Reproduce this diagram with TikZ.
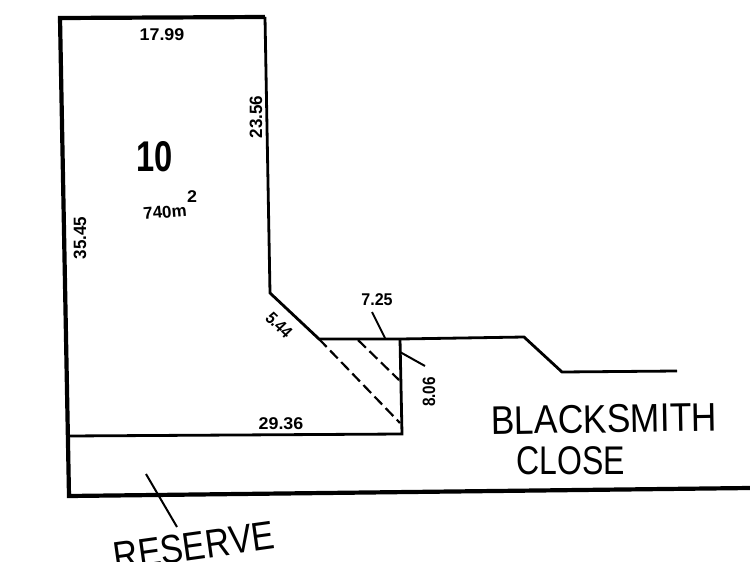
\documentclass[tikz,border=0pt]{standalone}
\usepackage{fontspec}
\setmainfont{Liberation Sans}
\begin{document}
\begin{tikzpicture}[x=1pt,y=-1pt,
  boundline/.style={line width=2.8pt,black,line join=miter},
  heavyline/.style={line width=4.2pt,black,line join=miter},
  easement/.style={line width=2.2pt,black,dash pattern=on 11pt off 5pt},
  leaderline/.style={line width=2pt,black},
  dimlabel/.style={inner sep=0pt,text=black,font=\bfseries\fontsize{17}{17}\selectfont,xscale=1.05},
  lotlabel/.style={inner sep=0pt,text=black,font=\bfseries\fontsize{43}{43}\selectfont,xscale=0.76},
  placelabel/.style={inner sep=0pt,text=black,font=\fontsize{40}{40}\selectfont}]
\useasboundingbox (0,0) rectangle (750,562);
\clip (0,0) rectangle (750,562);
\fill[white] (0,0) rectangle (750,562);
\coordinate (tl) at (60,18);
\coordinate (tr) at (265,17);
\coordinate (bend) at (270,293);
\coordinate (corner) at (319,339);
\coordinate (cr) at (400,339);
\coordinate (kerb1) at (524,337);
\coordinate (kerb2) at (562,372);
\coordinate (kerb3) at (677,371);
\coordinate (br) at (402,434);
\coordinate (bl) at (68,436);
\coordinate (rbl) at (69,496);
\coordinate (rbr) at (750,488);
\coordinate (d1) at (400,423);
\coordinate (d2a) at (358,340);
\coordinate (d2b) at (399,380);
\draw[boundline] (tr) -- (bend) -- (corner) -- (cr) -- (kerb1) -- (kerb2) -- (kerb3);
\draw[boundline] (cr) -- (br) -- (bl);
\draw[heavyline] (tr) -- (tl) -- (rbl) -- (rbr);
\draw[easement] (corner) -- (d1);
\draw[easement] (d2a) -- (d2b);
\coordinate (l1a) at (372,312); \coordinate (l1b) at (385,338);
\coordinate (l2a) at (400,352); \coordinate (l2b) at (425,366);
\coordinate (l3a) at (146,474); \coordinate (l3b) at (177,527);
\draw[leaderline] (l1a) -- (l1b);
\draw[leaderline] (l2a) -- (l2b);
\draw[leaderline] (l3a) -- (l3b);
\node[dimlabel] (t1) at (162,35) {17.99};
\node[dimlabel,rotate=90] (t2) at (256,117) {23.56};
\node[dimlabel,rotate=90] (t3) at (80,238) {35.45};
\node[lotlabel] (t4) at (155,157) {10};
\node[dimlabel,rotate=5,xscale=0.95] (t5) at (165,212) {740m};
\node[dimlabel] (t5b) at (192,197) {2};
\node[dimlabel,rotate=-45,xscale=0.85] (t6) at (279,325) {5.44};
\node[dimlabel,xscale=0.9] (t7) at (377,300) {7.25};
\node[dimlabel,rotate=90,xscale=0.9] (t8) at (429,392) {8.06};
\node[dimlabel] (t9) at (281,424) {29.36};
\node[placelabel,rotate=1,xscale=0.885] (t10) at (604,419) {BLACKSMITH};
\node[placelabel,xscale=0.8] (t11) at (571,461) {CLOSE};
\node[placelabel,rotate=8,xscale=0.85] (t12) at (194,546) {RESERVE};
\end{tikzpicture}
\end{document}
